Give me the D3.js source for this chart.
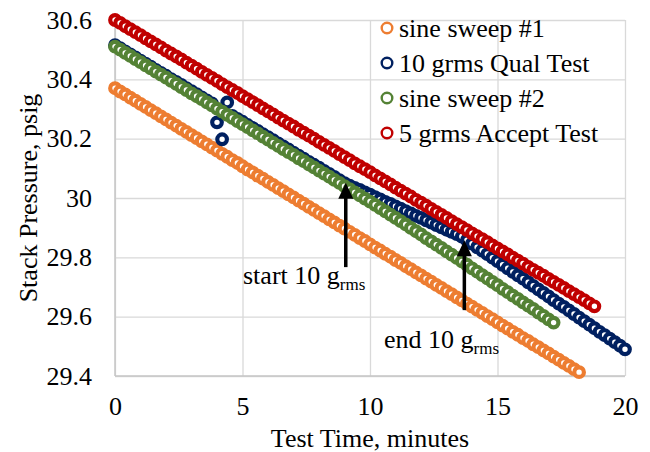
<!DOCTYPE html>
<html>
<head>
<meta charset="utf-8">
<script src="https://cdn.jsdelivr.net/npm/d3@7"></script>
<style>
    body { margin: 0; background: #fff; }
    #chart { width: 650px; height: 452px; }
</style>
</head>
<body>
<div id="chart"></div>
<script>

// sampling interval of the logger, minutes
const stepMin = 0.2;

const seriesNames = ["sine sweep #1", "10 grms Qual Test", "sine sweep #2", "5 grms Accept Test"];
const seriesColors = ["#ED7D31", "#002060", "#548235", "#C00000"];

// stack pressure (psig), one value every stepMin
const sweep1 = [30.370, 30.359, 30.349, 30.338, 30.328, 30.317, 30.307, 30.296, 30.286, 30.275,
    30.265, 30.254, 30.244, 30.233, 30.223, 30.212, 30.202, 30.191, 30.181, 30.170,
    30.160, 30.149, 30.139, 30.128, 30.118, 30.107, 30.096, 30.086, 30.075, 30.065,
    30.054, 30.044, 30.033, 30.023, 30.012, 30.002, 29.991, 29.981, 29.970, 29.960,
    29.949, 29.939, 29.928, 29.918, 29.907, 29.897, 29.886, 29.876, 29.865, 29.855,
    29.844, 29.833, 29.823, 29.812, 29.802, 29.791, 29.781, 29.770, 29.760, 29.749,
    29.739, 29.728, 29.718, 29.707, 29.697, 29.686, 29.676, 29.665, 29.655, 29.644,
    29.634, 29.623, 29.613, 29.602, 29.592, 29.581, 29.570, 29.560, 29.549, 29.539,
    29.528, 29.518, 29.507, 29.497, 29.486, 29.476, 29.465, 29.455, 29.444, 29.434,
    29.423, 29.413];

const qual10 = [30.515, 30.505, 30.494, 30.484, 30.474, 30.463, 30.453, 30.443, 30.432, 30.422,
    30.412, 30.401, 30.391, 30.381, 30.370, 30.360, 30.350, 30.339, 30.329, 30.319,
    30.255, 30.198, 30.322, 30.277, 30.267, 30.257, 30.246, 30.236, 30.226, 30.215,
    30.205, 30.195, 30.184, 30.174, 30.164, 30.153, 30.143, 30.133, 30.122, 30.112,
    30.102, 30.091, 30.081, 30.071, 30.060, 30.050, 30.042, 30.034, 30.027, 30.019,
    30.011, 30.003, 29.995, 29.987, 29.980, 29.972, 29.964, 29.956, 29.948, 29.940,
    29.933, 29.925, 29.917, 29.909, 29.901, 29.893, 29.886, 29.878, 29.870, 29.858,
    29.846, 29.834, 29.823, 29.811, 29.799, 29.787, 29.775, 29.763, 29.751, 29.739,
    29.728, 29.716, 29.704, 29.692, 29.680, 29.668, 29.656, 29.644, 29.633, 29.621,
    29.609, 29.597, 29.585, 29.573, 29.561, 29.549, 29.538, 29.526, 29.514, 29.502,
    29.490];

const sweep2 = [30.510, 30.500, 30.489, 30.479, 30.468, 30.458, 30.447, 30.437, 30.426, 30.416,
    30.406, 30.395, 30.385, 30.374, 30.364, 30.353, 30.343, 30.333, 30.322, 30.312,
    30.301, 30.291, 30.280, 30.270, 30.259, 30.249, 30.239, 30.228, 30.218, 30.207,
    30.197, 30.186, 30.176, 30.165, 30.155, 30.145, 30.134, 30.124, 30.113, 30.103,
    30.092, 30.082, 30.072, 30.061, 30.051, 30.040, 30.030, 30.019, 30.009, 29.998,
    29.988, 29.977, 29.966, 29.955, 29.944, 29.933, 29.922, 29.911, 29.899, 29.888,
    29.877, 29.865, 29.854, 29.843, 29.832, 29.820, 29.809, 29.798, 29.786, 29.775,
    29.763, 29.752, 29.740, 29.729, 29.717, 29.706, 29.694, 29.683, 29.671, 29.660,
    29.648, 29.637, 29.626, 29.614, 29.603, 29.591, 29.580];

const accept5 = [30.600, 30.590, 30.579, 30.569, 30.559, 30.549, 30.538, 30.528, 30.518, 30.508,
    30.497, 30.487, 30.477, 30.467, 30.456, 30.446, 30.436, 30.425, 30.415, 30.405,
    30.395, 30.384, 30.374, 30.364, 30.354, 30.343, 30.333, 30.323, 30.313, 30.302,
    30.292, 30.282, 30.271, 30.261, 30.251, 30.241, 30.230, 30.220, 30.210, 30.200,
    30.189, 30.179, 30.169, 30.159, 30.148, 30.138, 30.128, 30.117, 30.107, 30.097,
    30.087, 30.076, 30.066, 30.056, 30.046, 30.035, 30.025, 30.015, 30.005, 29.994,
    29.984, 29.974, 29.963, 29.953, 29.943, 29.933, 29.922, 29.912, 29.902, 29.892,
    29.881, 29.871, 29.861, 29.851, 29.840, 29.830, 29.820, 29.810, 29.799, 29.789,
    29.779, 29.768, 29.758, 29.748, 29.738, 29.727, 29.717, 29.707, 29.697, 29.686,
    29.676, 29.666, 29.656, 29.645, 29.635];

const xTicks = [0, 5, 10, 15, 20];
const yTicks = [29.4, 29.6, 29.8, 30, 30.2, 30.4, 30.6];

// annotations: arrow x, arrow tail, arrow tip (minutes, psig)
const arrowTime = [9.05, 13.7];
const arrowFrom = [29.767, 29.622];
const arrowTo = [30.051, 29.858];
const annotText = ["start 10 g", "end 10 g"];
const annotSub = ["rms", "rms"];
const annotTime = [5.02, 10.55];
const annotValue = [29.709, 29.496];

const FONT = "'Liberation Serif', 'Times New Roman', serif";


class PressureVis {

    constructor(parentElement) {
        this.parentElement = parentElement;
        this.series = [sweep1, qual10, sweep2, accept5];
        this.initVis();
    }

    initVis() {
        let vis = this;

        vis.margin = {top: 20, right: 25, bottom: 76, left: 115};
        vis.width = 650 - vis.margin.left - vis.margin.right;
        vis.height = 452 - vis.margin.top - vis.margin.bottom;

        // init drawing area
        vis.svg = d3.select("#" + vis.parentElement).append("svg")
            .attr("width", 650)
            .attr("height", 452)
            .style("font-family", FONT)
            .append("g")
            .attr("transform", `translate(${vis.margin.left}, ${vis.margin.top})`);

        // scales
        vis.x = d3.scaleLinear().domain([0, 20]).range([0, vis.width]);
        vis.y = d3.scaleLinear().domain([29.4, 30.6]).range([vis.height, 0]);

        // gridlines
        vis.svg.append("g")
            .attr("class", "grid")
            .call(d3.axisLeft(vis.y).tickValues(yTicks).tickSize(-vis.width).tickFormat(""))
            .call(g => g.select(".domain").remove())
            .call(g => g.selectAll("line").attr("stroke", "#d9d9d9").attr("stroke-width", 1.3));

        vis.svg.append("g")
            .attr("class", "grid")
            .attr("transform", `translate(0, ${vis.height})`)
            .call(d3.axisBottom(vis.x).tickValues(xTicks).tickSize(-vis.height).tickFormat(""))
            .call(g => g.select(".domain").remove())
            .call(g => g.selectAll("line").attr("stroke", "#d9d9d9").attr("stroke-width", 1.3));

        // axis lines
        vis.svg.append("line")
            .attr("x1", 0).attr("x2", 0)
            .attr("y1", 0).attr("y2", vis.height)
            .attr("stroke", "#c6c6c6").attr("stroke-width", 1.5);
        vis.svg.append("line")
            .attr("x1", 0).attr("x2", vis.width)
            .attr("y1", vis.height).attr("y2", vis.height)
            .attr("stroke", "#c6c6c6").attr("stroke-width", 1.5);

        // tick labels
        vis.yAxis = d3.axisLeft(vis.y).tickValues(yTicks).tickSize(0).tickPadding(23)
            .tickFormat(d => d3.format("")(+d.toFixed(1)));
        vis.xAxis = d3.axisBottom(vis.x).tickValues(xTicks).tickSize(0).tickPadding(21);

        vis.svg.append("g")
            .attr("class", "y-axis axis")
            .call(vis.yAxis)
            .attr("font-family", null)
            .attr("font-size", null)
            .call(g => g.select(".domain").remove())
            .call(g => g.selectAll("text").attr("fill", "#000")
                .style("font-family", FONT).style("font-size", "26px"));

        vis.svg.append("g")
            .attr("class", "x-axis axis")
            .attr("transform", `translate(0, ${vis.height})`)
            .call(vis.xAxis)
            .attr("font-family", null)
            .attr("font-size", null)
            .call(g => g.select(".domain").remove())
            .call(g => g.selectAll("text").attr("fill", "#000")
                .style("font-family", FONT).style("font-size", "26px"));

        // axis titles
        vis.svg.append("text")
            .attr("x", vis.width / 2)
            .attr("y", vis.height + 71)
            .attr("text-anchor", "middle")
            .style("font-family", FONT)
            .style("font-size", "26px")
            .text("Test Time, minutes");

        vis.svg.append("text")
            .attr("transform", `translate(${-78}, ${vis.height / 2}) rotate(-90)`)
            .attr("text-anchor", "middle")
            .style("font-family", FONT)
            .style("font-size", "26px")
            .text("Stack Pressure, psig");

        vis.wrangleData();
    }

    wrangleData() {
        let vis = this;

        vis.displayData = vis.series.map((values, s) =>
            values.map((v, i) => ({t: i * stepMin, p: v, s: s})));

        vis.updateVis();
    }

    updateVis() {
        let vis = this;

        // markers, one group per series in legend order
        vis.svg.selectAll(".series")
            .data(vis.displayData)
            .enter().append("g")
            .attr("class", "series")
            .each(function (d, s) {
                d3.select(this).selectAll("circle")
                    .data(d)
                    .enter().append("circle")
                    .attr("cx", p => vis.x(p.t))
                    .attr("cy", p => vis.y(p.p))
                    .attr("r", 4.8)
                    .attr("fill", "#fff")
                    .attr("stroke", seriesColors[s])
                    .attr("stroke-width", 4.2);
            });

        // arrows
        arrowTime.forEach((t, i) => {
            let x = vis.x(t);
            let y0 = vis.y(arrowFrom[i]);
            let y1 = vis.y(arrowTo[i]);
            vis.svg.append("line")
                .attr("x1", x).attr("x2", x)
                .attr("y1", y0).attr("y2", y1 + 14)
                .attr("stroke", "#000").attr("stroke-width", 3.5);
            vis.svg.append("path")
                .attr("d", `M${x},${y1} L${x - 7.5},${y1 + 16} L${x + 7.5},${y1 + 16} Z`)
                .attr("fill", "#000");
        });

        // annotation labels with subscript
        annotText.forEach((label, i) => {
            let txt = vis.svg.append("text")
                .attr("x", vis.x(annotTime[i]))
                .attr("y", vis.y(annotValue[i]))
                .style("font-family", FONT)
                .style("font-size", "26px")
                .text(label);
            txt.append("tspan")
                .style("font-size", "17px")
                .attr("dy", 6)
                .text(annotSub[i]);
        });

        // legend
        let legend = vis.svg.append("g")
            .attr("class", "legend")
            .attr("transform", `translate(${272}, ${8})`);

        let rows = legend.selectAll(".legend-row")
            .data(seriesNames)
            .enter().append("g")
            .attr("class", "legend-row")
            .attr("transform", (d, i) => `translate(0, ${i * 35})`);

        rows.append("circle")
            .attr("r", 5.3)
            .attr("fill", "#fff")
            .attr("stroke", (d, i) => seriesColors[i])
            .attr("stroke-width", 2.4);

        rows.append("text")
            .attr("x", 12)
            .attr("y", 9)
            .style("font-family", FONT)
            .style("font-size", "26px")
            .text(d => d);
    }
}

new PressureVis("chart");

</script>
</body>
</html>
